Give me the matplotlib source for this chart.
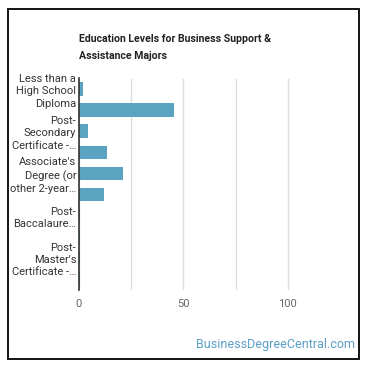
import matplotlib
matplotlib.use("Agg")
import matplotlib.pyplot as plt
from matplotlib.patches import Rectangle

plt.rcParams['font.family'] = ['Roboto', 'DejaVu Sans']

# data
categories = ["Less than a High School Diploma", "High School Diploma",
              "Post-Secondary Certificate", "Some College Courses",
              "Associate's Degree (or other 2-year degree)", "Bachelor's Degree",
              "Post-Baccalaureate Certificate", "Master's Degree",
              "Post-Master's Certificate", "Doctoral Degree"]
shown_labels = ["Less than a\nHigh School\nDiploma", "",
                "Post-\nSecondary\nCertificate -…", "",
                "Associate's\nDegree (or\nother 2-year…", "",
                "Post-\nBaccalaure…", "",
                "Post-\nMaster's\nCertificate -…", ""]
values = [1.8, 45.7, 4.3, 13.5, 21.0, 12.0, 0.4, 0.7, 0.3, 0.3]
x_ticks = [0, 50, 100]
x_grid = [25, 75]

W = 370.0
fig = plt.figure(figsize=(3.7, 3.7), dpi=100)
ax = fig.add_axes([79/W, 1-289.5/W, (340-79)/W, (289.5-78.5)/W])

ypos = list(range(len(categories)))
ax.barh(ypos, values, height=0.64, color="#5aa3c1")
ax.set_ylim(len(categories)-0.5, -0.5)
ax.set_xlim(0, 125)

ax.set_yticks(ypos)
ax.set_yticklabels(shown_labels, fontsize=8.0, color="#333333", linespacing=1.3)
ax.set_xticks(x_ticks)
ax.set_xticklabels([str(t) for t in x_ticks], fontsize=8, color="#666666")
ax.set_xticks(x_grid, minor=True)
ax.tick_params(axis='y', length=0, pad=2)
ax.tick_params(axis='x', which='both', length=0, pad=7)
ax.grid(axis='x', which='both', color="#dddddd", linewidth=1)
ax.set_axisbelow(True)
for s in ['top', 'right', 'bottom']:
    ax.spines[s].set_visible(False)
ax.spines['left'].set_color("#333333")
ax.spines['left'].set_linewidth(1.2)
ax.spines['left'].set_zorder(5)

fig.text(79/W, 1-34/W, "Education Levels for Business Support &\nAssistance Majors",
         fontsize=7.6, fontweight='bold', color="#222222", va='top', ha='left',
         linespacing=1.9)
fig.text(355/W, 1-348/W, "BusinessDegreeCentral.com", fontsize=9,
         color="#5b9fc6", ha='right', va='baseline')

fig.patches.append(Rectangle((7.5/W, 1-358.5/W), (359-7.5)/W, (358.5-8.5)/W,
                             transform=fig.transFigure, fill=False,
                             edgecolor='black', linewidth=1.3))

fig.savefig("out.png", dpi=100)
